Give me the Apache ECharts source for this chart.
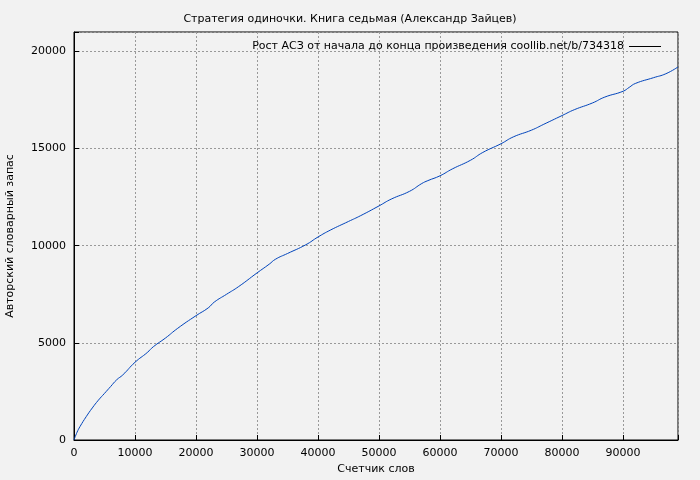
<!DOCTYPE html><html><head><meta charset="utf-8">
<script src="https://cdn.jsdelivr.net/npm/echarts@6/dist/echarts.min.js"></script>
<style>body{margin:0;background:#f2f2f2}#c{width:700px;height:480px}</style></head><body><div id="c"></div>
<script>
const words=[0,500,1000,2000,3000,4000,5000,6000,7000,8000,10000,12000,13000,15000,17000,20000,22000,23000,25000,27000,30000,32000,33000,35000,38000,40000,42000,45000,47000,50000,52000,55000,57000,58000,60000,62000,65000,67000,70000,72000,75000,77000,80000,82000,85000,87000,90000,91000,92000,95000,97000,99000];
const vocab=[0,400,700,1200,1650,2050,2400,2750,3100,3350,4000,4500,4800,5250,5750,6400,6800,7100,7500,7900,8600,9050,9300,9600,10050,10450,10800,11250,11550,12050,12400,12800,13200,13350,13600,13950,14400,14800,15250,15600,15950,16250,16700,17000,17350,17650,17950,18150,18350,18650,18850,19200];
const data=words.map((w,i)=>[w,vocab[i]]);
const ch=echarts.init(document.getElementById('c'));
const F='DejaVu Sans';
const NAME='Рост АСЗ от начала до конца произведения coollib.net/b/734318';
ch.setOption({backgroundColor:'#f2f2f2',
title:{text:'Стратегия одиночки. Книга седьмая (Александр Зайцев)',left:'center',top:9,textStyle:{fontFamily:F,fontSize:11,fontWeight:'normal',color:'#000'}},
legend:{right:34,top:36,itemWidth:32,itemHeight:1,align:'right',textStyle:{fontFamily:F,fontSize:11,color:'#000'},icon:'rect',itemStyle:{color:'#000'},data:[NAME]},
grid:{left:74,right:22,top:32,bottom:40,show:true,borderColor:'#000',borderWidth:1,containLabel:false,outerBoundsMode:'none'},
xAxis:{type:'value',min:0,max:99000,interval:10000,name:'Счетчик слов',nameLocation:'middle',nameGap:24,nameTextStyle:{fontFamily:F,fontSize:11,color:'#000'},
axisLabel:{fontFamily:F,fontSize:11,color:'#000',formatter:v=>v>=99000?'':v},axisLine:{lineStyle:{color:'#000'}},axisTick:{inside:true,lineStyle:{color:'#000'}},
splitLine:{lineStyle:{color:'#999',type:[2,2]}}},
yAxis:{type:'value',min:0,max:21000,interval:5000,name:'Авторский словарный запас',nameLocation:'middle',nameGap:58,nameTextStyle:{fontFamily:F,fontSize:11,color:'#000'},
axisLabel:{fontFamily:F,fontSize:11,color:'#000',formatter:v=>v>20000?'':v},axisLine:{lineStyle:{color:'#000'}},axisTick:{inside:true,lineStyle:{color:'#000'}},
splitLine:{lineStyle:{color:'#999',type:[2,2]}}},
series:[{name:NAME,type:'line',data:data,showSymbol:false,smooth:true,lineStyle:{color:'#0044bb',width:1},itemStyle:{color:'#000'}}]});
</script></body></html>
